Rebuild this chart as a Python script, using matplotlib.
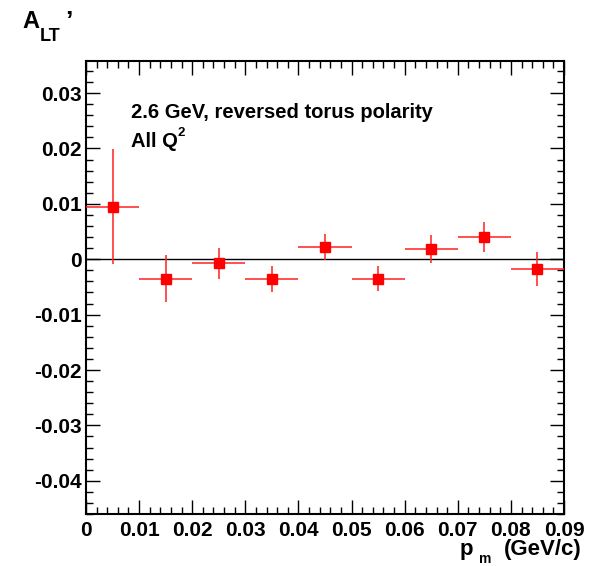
import matplotlib
matplotlib.use("Agg")
import matplotlib.pyplot as plt
from matplotlib.ticker import MultipleLocator, FixedLocator

plt.rcParams['font.family'] = ['Liberation Sans', 'DejaVu Sans']
plt.rcParams['font.weight'] = 'bold'

pm = [0.005, 0.015, 0.025, 0.035, 0.045, 0.055, 0.065, 0.075, 0.085]
alt = [0.0095, -0.0035, -0.0007, -0.0036, 0.0022, -0.0035, 0.0018, 0.0040, -0.0017]
alt_err = [0.0104, 0.0043, 0.0028, 0.0024, 0.0023, 0.0023, 0.0025, 0.0027, 0.0031]
bin_halfwidth = [0.005] * 9
xticks = [0, 0.01, 0.02, 0.03, 0.04, 0.05, 0.06, 0.07, 0.08, 0.09]
xticklabels = ['0', '0.01', '0.02', '0.03', '0.04', '0.05', '0.06', '0.07', '0.08', '0.09']
yticks = [-0.04, -0.03, -0.02, -0.01, 0, 0.01, 0.02, 0.03]
yticklabels = ['-0.04', '-0.03', '-0.02', '-0.01', '0', '0.01', '0.02', '0.03']

W, H = 601, 566
fig = plt.figure(figsize=(W / 100, H / 100), dpi=100)
L, R, T, B = 86, 564, 61, 514
ax = fig.add_axes([L / W, (H - B) / H, (R - L) / W, (B - T) / H])


def fx(px):
    return px / W


def fy(py):
    return 1 - py / H


ax.axhline(0, color='black', lw=1.0, zorder=1)
ax.errorbar(pm, alt, yerr=alt_err, xerr=bin_halfwidth, fmt='s', color='red',
            ecolor='#ff2020', elinewidth=1.1, capsize=0, ms=7, mec='red', zorder=3)

ax.set_xlim(0, 0.09)
ax.set_ylim(-0.046, 0.0358)
ax.xaxis.set_major_locator(FixedLocator(xticks))
ax.set_xticklabels(xticklabels)
ax.yaxis.set_major_locator(FixedLocator(yticks))
ax.set_yticklabels(yticklabels)
ax.xaxis.set_minor_locator(MultipleLocator(0.002))
ax.yaxis.set_minor_locator(MultipleLocator(0.002))
ax.tick_params(which='both', direction='in', top=True, right=True, width=1.0, color='black')
ax.tick_params(which='major', length=10, labelsize=15)
ax.tick_params(axis='y', which='major', pad=3)
ax.tick_params(axis='x', which='major', pad=5)
ax.tick_params(which='minor', length=5)
for s in ax.spines.values():
    s.set_linewidth(1.5)

# annotation inside the frame
fig.text(fx(131), fy(118), '2.6 GeV, reversed torus polarity', fontsize=14.5,
         fontweight='bold', va='baseline', ha='left')
fig.text(fx(131), fy(147), 'All Q', fontsize=14.5, fontweight='bold',
         va='baseline', ha='left')
fig.text(fx(178), fy(136), '2', fontsize=9.5, fontweight='bold',
         va='baseline', ha='left')

# y-axis title A_LT'
fig.text(fx(22), fy(28), 'A', fontsize=17, fontweight='bold', va='baseline', ha='left')
fig.text(fx(40), fy(41), 'LT', fontsize=13, fontweight='bold', va='baseline', ha='left')
fig.text(fx(65), fy(29), '\u2019', fontsize=19, fontweight='bold', va='baseline', ha='left')

# x-axis title p_m (GeV/c)
fig.text(fx(460), fy(555), 'p', fontsize=16, fontweight='bold', va='baseline', ha='left')
fig.text(fx(479), fy(563), 'm', fontsize=10, fontweight='bold', va='baseline', ha='left')
fig.text(fx(582), fy(555), '(GeV/c)', fontsize=16, fontweight='bold', va='baseline', ha='right')

fig.savefig('out.png', dpi=100)
